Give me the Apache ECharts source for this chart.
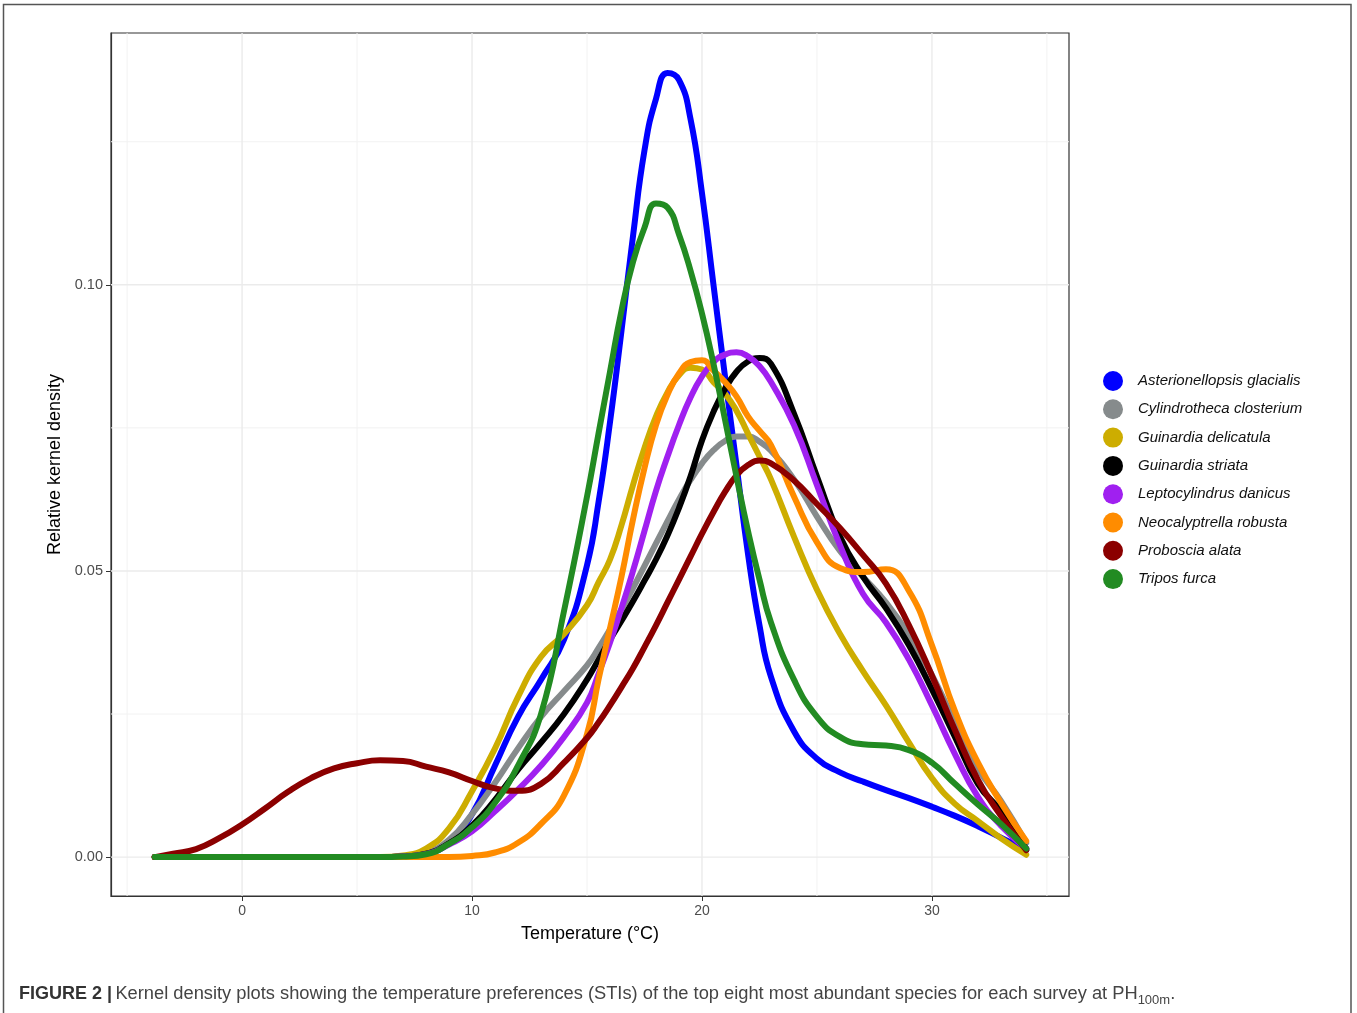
<!DOCTYPE html>
<html>
<head>
<meta charset="utf-8">
<script src="https://cdn.jsdelivr.net/npm/echarts@6/dist/echarts.min.js"></script>
<style>
html,body{margin:0;padding:0;background:#fff;}
#chart{width:1357px;height:1013px;}
</style>
</head>
<body>
<div id="chart"></div>
<script>
// Temperature grid (°C)
const temps = [-3.8,-3,-2,-1,0,1,2,3,4,5,6,7,8,9,10,11,12,13,14,15,15.5,16,16.5,17,17.5,18,18.5,19,19.5,20,20.5,21,21.5,22,22.5,23,24,25,26,27,28,29,30,31,32,33,34.1];

const species = ["Asterionellopsis glacialis","Cylindrotheca closterium","Guinardia delicatula","Guinardia striata","Leptocylindrus danicus","Neocalyptrella robusta","Proboscia alata","Tripos furca"];

const asterionellopsis = [0,0,0,0,0,0,0,0,0,0,0,0.0001,0.0006,0.0025,0.0075,0.016,0.0245,0.031,0.038,0.051,0.062,0.076,0.092,0.1085,0.1235,0.1325,0.137,0.1358,0.129,0.116,0.100,0.084,0.0685,0.053,0.0405,0.0315,0.022,0.0172,0.0148,0.0132,0.0117,0.0103,0.0088,0.0072,0.0054,0.0034,0.0012];
const cylindrotheca = [0,0,0,0,0,0,0,0,0,0,0,0.0001,0.0008,0.003,0.0075,0.013,0.019,0.0245,0.029,0.0335,0.0365,0.0398,0.0433,0.047,0.0509,0.0548,0.0587,0.0625,0.0659,0.0688,0.0711,0.0727,0.0735,0.0735,0.0726,0.071,0.066,0.0595,0.0535,0.049,0.0445,0.0388,0.0318,0.0235,0.0155,0.0098,0.0025];
const delicatula = [0,0,0,0,0,0,0,0,0,0,0,0.0003,0.0015,0.005,0.0115,0.019,0.028,0.035,0.039,0.044,0.048,0.052,0.058,0.065,0.0715,0.077,0.0812,0.0842,0.0855,0.0852,0.083,0.081,0.078,0.074,0.070,0.066,0.056,0.0467,0.039,0.0325,0.0265,0.020,0.0138,0.0093,0.0063,0.0033,0.0004];
const striata = [0,0,0,0,0,0,0,0,0,0,0,0.0001,0.0006,0.0024,0.0055,0.010,0.0153,0.020,0.025,0.031,0.0345,0.038,0.0413,0.0447,0.0483,0.052,0.0562,0.061,0.0665,0.0728,0.0778,0.0818,0.0848,0.0866,0.0872,0.0862,0.0775,0.0665,0.056,0.049,0.0435,0.037,0.0293,0.021,0.0128,0.008,0.0015];
const leptocylindrus = [0,0,0,0,0,0,0,0,0,0,0,0.0001,0.0005,0.0022,0.0045,0.008,0.0118,0.016,0.021,0.027,0.032,0.0375,0.0435,0.050,0.057,0.064,0.070,0.0755,0.0803,0.084,0.0865,0.0878,0.0882,0.0875,0.0858,0.083,0.0755,0.065,0.0545,0.046,0.041,0.0345,0.0265,0.018,0.0105,0.0055,0.0015];
const neocalyptrella = [0,0,0,0,0,0,0,0,0,0,0,0,0,0,0.0002,0.0008,0.0025,0.0058,0.0108,0.0215,0.031,0.040,0.049,0.059,0.068,0.0755,0.0808,0.0845,0.0865,0.0868,0.085,0.083,0.0805,0.077,0.0745,0.072,0.063,0.055,0.0505,0.0498,0.0503,0.0465,0.037,0.0255,0.0165,0.0095,0.0028];
const proboscia = [0,0.0006,0.0014,0.0033,0.0057,0.0085,0.0114,0.0138,0.0155,0.0164,0.0169,0.0168,0.0158,0.0148,0.0133,0.012,0.0116,0.0128,0.0165,0.0208,0.0235,0.0265,0.0297,0.033,0.0367,0.0405,0.0445,0.0485,0.0525,0.0565,0.0603,0.0638,0.0667,0.0685,0.0693,0.0688,0.0658,0.0617,0.0575,0.0528,0.0478,0.0405,0.0317,0.0222,0.0135,0.0072,0.0012];
const tripos = [0,0,0,0,0,0,0,0,0,0,0,0.0001,0.0005,0.0023,0.0052,0.0095,0.016,0.025,0.043,0.063,0.074,0.0848,0.0955,0.104,0.110,0.1142,0.1135,0.1088,0.1025,0.095,0.0862,0.0765,0.0665,0.057,0.0485,0.041,0.031,0.0245,0.021,0.0197,0.0195,0.0187,0.0165,0.0128,0.0092,0.0058,0.0015];

const seriesValues = [asterionellopsis,cylindrotheca,delicatula,striata,leptocylindrus,neocalyptrella,proboscia,tripos];
const colors = ["#0000FF","#868B8C","#CDAD00","#000000","#A020F0","#FF8C00","#8B0000","#228B22"];

// Axis ticks and grid lines
const xTicks = [0,10,20,30];
const xMinor = [-5,5,15,25,35];
const yTicks = [0,0.05,0.10];
const yMinor = [0.025,0.075,0.125];
const xRange = [-5.7, 35.96];
const yRange = [-0.0068, 0.144];

const chart = echarts.init(document.getElementById('chart'));

const series = [];
function gridSeries(vals, vertical, color, width){
  vals.forEach(v=>{
    series.push({
      type:'line', silent:true, z:1, symbol:'none', showSymbol:false, animation:false,
      data: vertical ? [[v,yRange[0]],[v,yRange[1]]] : [[xRange[0],v],[xRange[1],v]],
      lineStyle:{color:color, width:width, type:'solid'},
      tooltip:{show:false}
    });
  });
}
gridSeries(xMinor, true, '#f2f2f2', 1);
gridSeries(yMinor, false, '#f2f2f2', 1);
gridSeries(xTicks, true, '#ebebeb', 1.4);
gridSeries(yTicks, false, '#ebebeb', 1.4);

species.forEach((name,i)=>{
  series.push({
    type:'line', name:name, z:3+i,
    data: temps.map((t,j)=>[t, seriesValues[i][j]]),
    smooth:0.5, showSymbol:false, symbol:'none',
    lineStyle:{color:colors[i], width:6, cap:'round', join:'round'},
    itemStyle:{color:colors[i]},
    animation:false
  });
});

chart.setOption({
  animation:false,
  backgroundColor:'#fff',
  grid:{left:111, right:288, top:33, bottom:117, show:true, borderColor:'#333', borderWidth:1.2, backgroundColor:'transparent'},
  xAxis:{
    type:'value', min:xRange[0], max:xRange[1],
    name:'Temperature (°C)', nameLocation:'middle', nameGap:29,
    nameTextStyle:{fontSize:18, color:'#000', fontFamily:'Liberation Sans, Arial, sans-serif'},
    axisLine:{show:true, onZero:false, lineStyle:{color:'#333', width:1.2}},
    axisTick:{show:true, customValues:xTicks, length:5, lineStyle:{color:'#333'}},
    axisLabel:{customValues:xTicks, color:'#4d4d4d', fontSize:14, margin:8, fontFamily:'Liberation Sans, Arial, sans-serif'},
    splitLine:{show:false}
  },
  yAxis:{
    type:'value', min:yRange[0], max:yRange[1],
    name:'Relative kernel density', nameLocation:'middle', nameGap:41, nameRotate:90,
    nameTextStyle:{fontSize:18, color:'#000', fontFamily:'Liberation Sans, Arial, sans-serif'},
    axisLine:{show:true, onZero:false, lineStyle:{color:'#333', width:1.2}},
    axisTick:{show:true, customValues:yTicks, length:5, lineStyle:{color:'#333'}},
    axisLabel:{customValues:yTicks, color:'#4d4d4d', fontSize:14.5, margin:8, formatter:v=>v.toFixed(2), fontFamily:'Liberation Sans, Arial, sans-serif'},
    splitLine:{show:false}
  },
  legend:{
    data:species.map(s=>({name:s, icon:'circle'})),
    orient:'vertical', left:1098, top:366,
    itemWidth:40, itemHeight:20, itemGap:8.3,
    textStyle:{fontSize:15, fontStyle:'italic', color:'#111', fontFamily:'Liberation Sans, Arial, sans-serif'},
    selectedMode:false
  },
  graphic:[
    {type:'rect', silent:true, shape:{x:3.5, y:4.5, width:1347.5, height:1030}, style:{fill:'none', stroke:'#555', lineWidth:1.5}},
    {type:'text', left:19, top:985, silent:true,
      style:{
        text:'{b|FIGURE 2 |} {n|Kernel density plots showing the temperature preferences (STIs) of the top eight most abundant species for each survey at PH}{s|100m}{n|.}',
        rich:{
          b:{fontSize:18, fontWeight:'bold', fill:'#333', lineHeight:26, fontFamily:'Liberation Sans, Arial, sans-serif'},
          n:{fontSize:18.3, fill:'#444', lineHeight:26, fontFamily:'Liberation Sans, Arial, sans-serif'},
          s:{fontSize:13, fill:'#444', lineHeight:13, verticalAlign:'bottom', fontFamily:'Liberation Sans, Arial, sans-serif'}
        }
      }
    }
  ],
  series:series
});
</script>
</body>
</html>
